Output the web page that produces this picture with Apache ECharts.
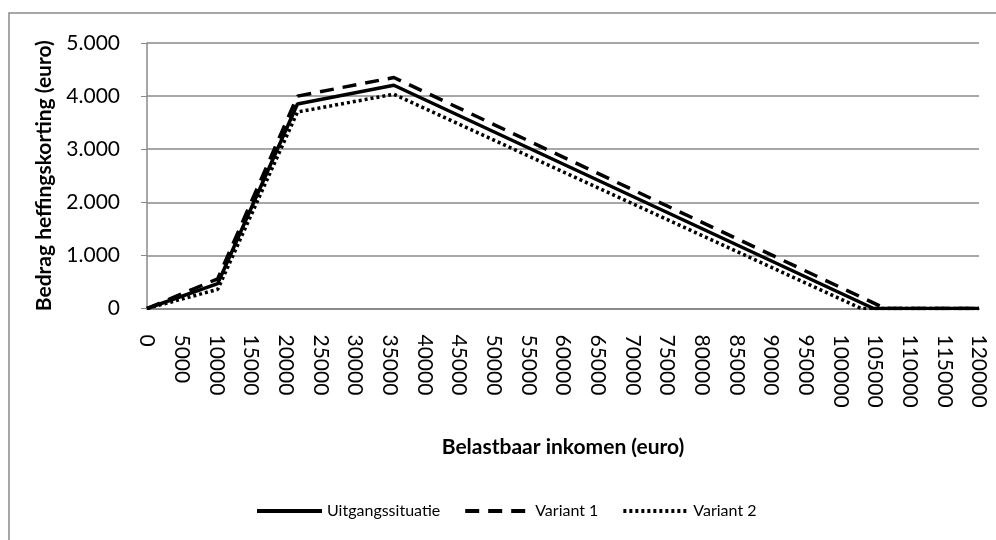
<!DOCTYPE html>
<html>
<head>
<meta charset="utf-8">
<script src="https://cdn.jsdelivr.net/npm/echarts@6/dist/echarts.min.js"></script>
<style>
  html, body { margin: 0; padding: 0; background: #fff; }
  #chart { width: 996px; height: 540px; }
</style>
</head>
<body>
<div id="chart"></div>
<script>
// inkomen (x) en heffingskorting (y) per knikpunt
const uitgangInkomen = [0, 10200, 21700, 35600, 104800, 120000];
const uitgangKorting = [0, 470, 3850, 4205, 0, 0];

const variant1Inkomen = [0, 10200, 21700, 35600, 106500, 120000];
const variant1Korting = [0, 560, 4000, 4350, 0, 0];

const variant2Inkomen = [0, 10200, 21700, 35600, 103000, 120000];
const variant2Korting = [0, 360, 3700, 4035, 0, 0];

const seriesNames = ['Uitgangssituatie', 'Variant 1', 'Variant 2'];

// paren maken voor de value-as
function pairs(xs, ys) {
  return xs.map(function (x, i) { return [x, ys[i]]; });
}

const font = 'Lato, "Open Sans", sans-serif';
const grey = '#8a8a8a';

const chart = echarts.init(document.getElementById('chart'), null, { renderer: 'canvas' });

const option = {
  backgroundColor: '#fff',
  animation: false,
  textStyle: { fontFamily: font, color: '#000' },
  graphic: [
    {
      // kader rond de grafiek (rechts en onder afgesneden)
      type: 'rect',
      shape: { x: 9, y: 13, width: 1100, height: 700 },
      style: { fill: 'none', stroke: grey, lineWidth: 1.5 },
      z: -1
    }
  ],
  grid: { left: 147, right: 17, top: 43, bottom: 231.5 },
  legend: {
    left: 250,
    top: 498,
    itemWidth: 65,
    itemHeight: 14,
    itemGap: 23,
    itemStyle: { opacity: 0 },
    lineStyle: { width: 4 },
    textStyle: { fontFamily: font, fontSize: 16, color: '#000' },
    data: seriesNames
  },
  xAxis: {
    type: 'value',
    min: 0,
    max: 120000,
    interval: 5000,
    name: 'Belastbaar inkomen (euro)',
    nameLocation: 'middle',
    nameGap: 128,
    nameTextStyle: { fontFamily: font, fontSize: 21, fontWeight: 'bold', color: '#000' },
    axisLine: { show: true, lineStyle: { color: grey, width: 2 } },
    axisTick: { show: false },
    splitLine: { show: false },
    axisLabel: {
      rotate: -90,
      margin: 26,
      fontFamily: font,
      fontSize: 21,
      color: '#000',
      padding: [10, 0, 0, 0],
      formatter: function (v) { return String(v); }
    }
  },
  yAxis: {
    type: 'value',
    min: 0,
    max: 5000,
    interval: 1000,
    name: 'Bedrag heffingskorting (euro)',
    nameLocation: 'middle',
    nameRotate: 90,
    nameGap: 92,
    nameTextStyle: { fontFamily: font, fontSize: 21, fontWeight: 'bold', color: '#000' },
    axisLine: { show: true, lineStyle: { color: grey, width: 1.5 } },
    axisTick: { show: true, length: 6, lineStyle: { color: grey } },
    splitLine: { show: true, lineStyle: { color: grey, width: 1.5 } },
    axisLabel: {
      margin: 27,
      fontFamily: font,
      fontSize: 21,
      color: '#000',
      formatter: function (v) {
        return v === 0 ? '0' : String(v).replace(/\B(?=(\d{3})+(?!\d))/g, '.');
      }
    }
  },
  series: [
    {
      name: seriesNames[0],
      type: 'line',
      symbol: 'none',
      data: pairs(uitgangInkomen, uitgangKorting),
      lineStyle: { color: '#000', width: 3.5, type: 'solid' },
      itemStyle: { color: '#000' },
      z: 3
    },
    {
      name: seriesNames[1],
      type: 'line',
      symbol: 'none',
      data: pairs(variant1Inkomen, variant1Korting),
      lineStyle: { color: '#000', width: 3.5, type: [14, 9] },
      itemStyle: { color: '#000' },
      z: 2
    },
    {
      name: seriesNames[2],
      type: 'line',
      symbol: 'none',
      data: pairs(variant2Inkomen, variant2Korting),
      lineStyle: { color: '#000', width: 3.5, type: [3, 3] },
      itemStyle: { color: '#000' },
      z: 2
    }
  ]
};

chart.setOption(option);
</script>
</body>
</html>
